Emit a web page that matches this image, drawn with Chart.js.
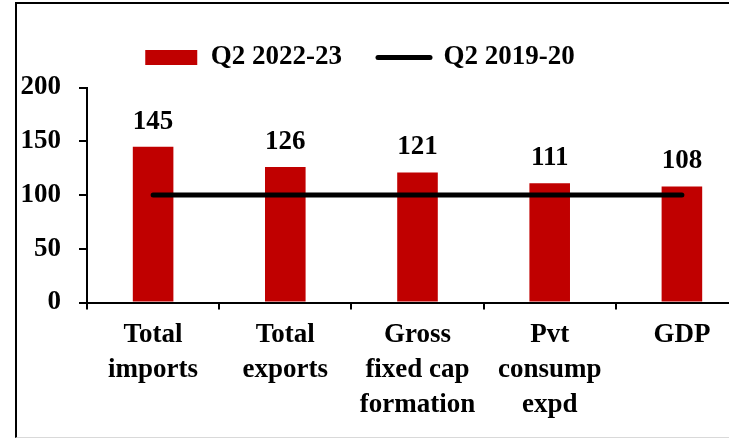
<!DOCTYPE html>
<html>
<head>
<meta charset="utf-8">
<script src="https://cdn.jsdelivr.net/npm/chart.js@4"></script>
<style>
	html, body { margin: 0; padding: 0; background: #fff; overflow: hidden; }
	body { width: 729px; height: 440px; position: relative; }
	#frame {
		position: absolute; left: 15px; top: 2px; width: 760px; height: 433px; z-index: 2;
		border-left: 2px solid #000; border-top: 2px solid #000; border-bottom: 1px solid #d9d9d9;
	}
	#chart { position: absolute; left: -28px; top: 0; z-index: 1; }
</style>
</head>
<body>
<div id="frame"></div>
<canvas id="chart" width="800" height="440"></canvas>
<script>
const categories = [
	["Total", "imports"],
	["Total", "exports"],
	["Gross", "fixed cap", "formation"],
	["Pvt", "consump", "expd"],
	["GDP"],
];
const currentValues = [145, 126, 121, 111, 108]; // Q2 2022-23
const baselineValues = [100, 100, 100, 100, 100]; // Q2 2019-20
const yTicks = [0, 50, 100, 150, 200];

Chart.defaults.font.family = "'Liberation Serif', 'Times New Roman', serif";
Chart.defaults.font.weight = "bold";
Chart.defaults.font.size = 27;
Chart.defaults.color = "#000";

// value labels above the bars
const barLabels = {
	id: "barLabels",
	afterDatasetsDraw(chart) {
		const ctx = chart.ctx;
		const meta = chart.getDatasetMeta(0);
		ctx.save();
		ctx.font = "bold 27px 'Liberation Serif', serif";
		ctx.fillStyle = "#000";
		ctx.textAlign = "center";
		ctx.textBaseline = "alphabetic";
		meta.data.forEach((bar, i) => {
			ctx.fillText(currentValues[i], bar.x, bar.y - 18);
		});
		ctx.restore();
	},
};

// fixed legend height so the plot starts where it should
const legendHeight = {
	id: "legendHeight",
	beforeLayout(chart) {
		const lg = chart.legend;
		if (lg && !lg._fixed) {
			const fit = lg.fit;
			lg.fit = function () {
				fit.call(this);
				this.height = 79.5;
			};
			lg._fixed = true;
		}
	},
};

const ctx = document.getElementById("chart").getContext("2d");
const chart = new Chart(ctx, {
	data: {
		labels: categories,
		datasets: [
			{
				type: "bar",
				label: "Q2 2022-23",
				data: currentValues,
				backgroundColor: "#C00000",
				borderWidth: 0,
				barPercentage: 0.307,
				categoryPercentage: 1,
				order: 2,
			},
			{
				type: "line",
				label: "Q2 2019-20",
				data: baselineValues,
				borderColor: "#000",
				backgroundColor: "#000",
				borderWidth: 5,
				borderCapStyle: "round",
				pointRadius: 0,
				order: 1,
			},
		],
	},
	options: {
		responsive: false,
		animation: false,
		layout: { padding: { top: 8, right: 24, bottom: 0, left: 0 } },
		plugins: {
			tooltip: { enabled: false },
			legend: {
				position: "top",
				labels: {
					usePointStyle: true,
					pointStyleWidth: 52,
					boxHeight: 15,
					padding: 36,
					font: { size: 27, weight: "bold" },
					generateLabels(chart) {
						const items = Chart.defaults.plugins.legend.labels.generateLabels(chart);
						items.sort((a, b) => a.datasetIndex - b.datasetIndex);
						items.forEach((item) => {
							if (item.datasetIndex === 0) {
								item.pointStyle = "rect";
								item.lineWidth = 0;
								item.fillStyle = "#C00000";
							} else {
								item.pointStyle = "line";
								item.lineWidth = 5;
								item.lineCap = "round";
								item.strokeStyle = "#000";
							}
						});
						return items;
					},
				},
			},
		},
		scales: {
			x: {
				offset: true,
				grid: {
					display: true,
					offset: true,
					drawOnChartArea: false,
					drawTicks: true,
					tickLength: 7,
					color: "#000",
					lineWidth: 2,
				},
				border: { display: true, color: "#000", width: 2 },
				ticks: { padding: 8, maxRotation: 0, autoSkip: false, font: { size: 27, weight: "bold", lineHeight: 1.3 } },
				afterFit(scale) {
					scale.height = 137.5;
				},
			},
			y: {
				min: 0,
				max: 200,
				afterBuildTicks(scale) {
					scale.ticks = yTicks.map((v) => ({ value: v }));
				},
				grid: {
					display: true,
					drawOnChartArea: false,
					drawTicks: true,
					tickLength: 8,
					color: "#000",
					lineWidth: 2,
				},
				border: { display: true, color: "#000", width: 2 },
				ticks: { padding: 18, font: { size: 27, weight: "bold" } },
				afterFit(scale) {
					scale.width = 115;
				},
			},
		},
	},
	plugins: [barLabels, legendHeight],
});
</script>
</body>
</html>
